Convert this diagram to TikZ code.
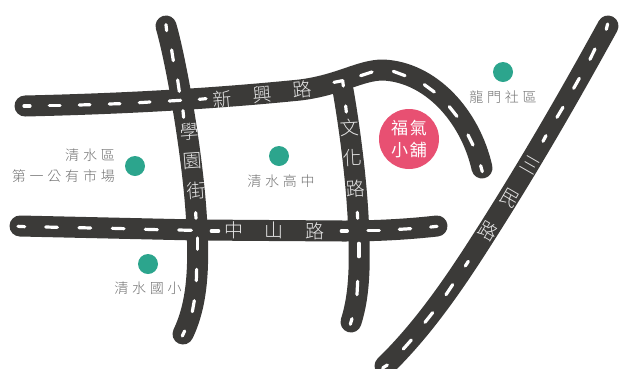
\documentclass[tikz,border=0pt]{standalone}
\usepackage{fontspec}
\setmainfont{Noto Sans CJK TC}
\newfontfamily\thinfont{Noto Sans CJK TC Light}
\newfontfamily\poifont[LetterSpace=27]{Noto Sans CJK TC Light}
\newfontfamily\shopfont[LetterSpace=10]{Noto Sans CJK TC}
\definecolor{roadc}{HTML}{3B3A38}
\definecolor{poic}{HTML}{2CA58D}
\definecolor{shopc}{HTML}{E85072}
\definecolor{labelc}{HTML}{707070}
\definecolor{roadtxt}{HTML}{E6E6E6}
\tikzset{
  road/.style={draw=roadc,line width=21pt,line cap=round,line join=round},
  lane/.style={draw=white,line width=3.2pt,line cap=round},
  poi/.style={circle,fill=poic,minimum size=20pt,inner sep=0pt},
  shop/.style={circle,fill=shopc,minimum size=60pt,inner sep=0pt,text=white,font=\shopfont\fontsize{17}{22}\selectfont,align=center},
  poilabel/.style={text=labelc,font=\poifont\fontsize{14}{21}\selectfont,inner sep=0pt,align=right},
  roadname/.style={text=roadtxt,font=\thinfont\fontsize{19}{19}\selectfont,inner sep=0pt}
}
\begin{document}
\begin{tikzpicture}[x=1pt,y=-1pt]
\useasboundingbox (0,0) rectangle (619,368);
% roads
\draw[road] (25,106) .. controls (110,104) and (200,100) .. (300,90) .. controls (340,85) and (360,70) .. (383,70) .. controls (430,72) and (470,115) .. (482,168);
\draw[road] (166,26) .. controls (176,60) and (194,160) .. (197,228) .. controls (199,270) and (197,305) .. (183,334);
\draw[road] (20,226) -- (197,230) -- (343,231) .. controls (380,231) and (410,229) .. (437,226);
\draw[road] (343,90) .. controls (350,130) and (358,190) .. (359,240) .. controls (360,275) and (358,300) .. (351,322);
\draw[road] (608,26) .. controls (570,95) and (530,165) .. (480,243) .. controls (450,290) and (420,332) .. (385,366);
% lane marks (traced segments)
\begin{scope}[x=0.3333pt,y=-0.3333pt]
\foreach \a/\b/\c/\d in {
 72/318/90/318, 148/317/180/317, 238/315/270/314, 328/312/360/311, 418/308/450/306, 508/303/542/301, 598/298/618/296,
 498/74/500/92, 515/150/520/182, 533/240/538/274, 549/332/551/352}
  \draw[lane] (\a,\b) -- (\c,\d);
\foreach \a/\b/\c/\d in {
 54/127/74/128, 137/129/172/130, 237/131/272/132, 337/133/372/134, 436/136/472/137, 536/138/574/139, 634/141/656/141,
 587/86/588/103, 592/162/592/196, 590/256/589/290, 583/350/577/383, 554/441/547/456}
  \draw[lane,shift={(0pt,-184pt)}] (\a,\b) -- (\c,\d);
\foreach \a/\b/\c/\d in {
 72/247/98/242, 152/227/186/216, 250/214/285/227, 343/254/373/276, 418/320/441/349, 474/405/489/435, 512/497/517/515,
 98/242/100/258, 107/318/109/336,
 893/72/889/88, 855/147/840/178, 808/235/791/265, 759/322/741/352, 708/407/699/424}
  \draw[lane,shift={(310pt,0pt)}] (\a,\b) -- (\c,\d);
\foreach \a/\b/\c/\d in {
 94/141/112/141, 174/140/208/140, 268/136/302/134, 362/129/381/127,
 142/85/143/103, 147/178/147/218, 143/292/141/332, 126/404/121/421,
 475/232/466/246, 428/302/408/332, 368/386/345/415, 304/468/280/495, 232/543/218/552}
  \draw[lane,shift={(310pt,-184pt)}] (\a,\b) -- (\c,\d);
\end{scope}
% road names
\node[roadname,rotate=5] (x1) at (222,99) {新};
\node[roadname,rotate=5] (x2) at (262,95) {興};
\node[roadname,rotate=5] (x3) at (302,89) {路};
\node[roadname,rotate=4] (h1) at (189,132) {學};
\node[roadname,rotate=4] (h2) at (193,161) {園};
\node[roadname,rotate=4] (h3) at (196,191) {街};
\node[roadname,rotate=3] (w1) at (350,128) {文};
\node[roadname,rotate=3] (w2) at (353,158) {化};
\node[roadname,rotate=3] (w3) at (356,189) {路};
\node[roadname] (z1) at (234,230) {中};
\node[roadname] (z2) at (274,230) {山};
\node[roadname] (z3) at (315,231) {路};
\node[roadname,rotate=-30] (s1) at (530,165) {三};
\node[roadname,rotate=-30] (s2) at (510,198) {民};
\node[roadname,rotate=-30] (s3) at (488,231) {路};
% points of interest
\node[poi] (p1) at (135,166) {};
\node[poi] (p2) at (279,156) {};
\node[poi] (p3) at (503,72) {};
\node[poi] (p4) at (148,264) {};
\node[poilabel,anchor=east] (l1) at (115,166) {清水區\\第一公有市場};
\node[poilabel] (l2) at (281,181) {清水高中};
\node[poilabel] (l3) at (503,97) {龍門社區};
\node[poilabel] (l4) at (148,288) {清水國小};
\node[shop] (shop) at (409,139) {福氣\\小舖};
\end{tikzpicture}
\end{document}
